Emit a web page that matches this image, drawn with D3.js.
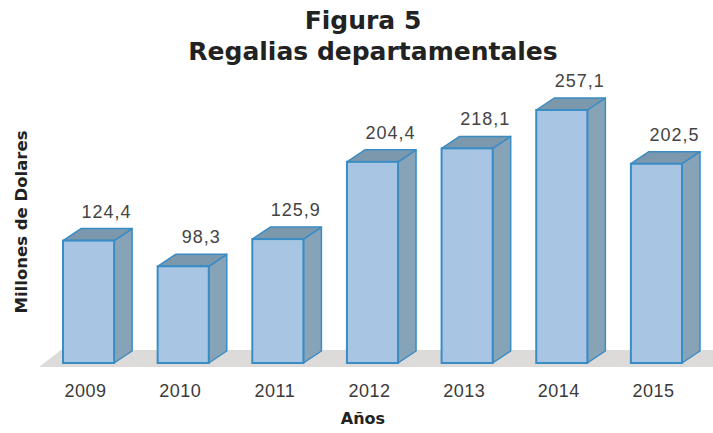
<!DOCTYPE html>
<html>
<head>
<meta charset="utf-8">
<script src="https://cdn.jsdelivr.net/npm/d3@7"></script>
<style>
  body { margin: 0; background: #fff; }
  svg { display: block; }
</style>
</head>
<body>
<svg id="chart"></svg>
<script>
const years = ['2009', '2010', '2011', '2012', '2013', '2014', '2015'];
const regalias = [124.4, 98.3, 125.9, 204.4, 218.1, 257.1, 202.5];

const width = 713, height = 433;
const base = 363;
const depthX = 18, depthY = 12;

const svg = d3.select('#chart')
    .attr('width', width)
    .attr('height', height);

const x = d3.scaleBand()
    .domain(years)
    .range([40, 705])
    .paddingInner(0.46)
    .paddingOuter(0.243);

const y = d3.scaleLinear()
    .domain([0, 257.1])
    .range([base, 110]);

const fmt = d3.formatLocale({ decimal: ',', thousands: '.', grouping: [3], currency: ['', ''] }).format('.1f');

// floor
svg.append('polygon')
    .attr('points', [[39, 367], [61, 350], [713, 350], [713, 367]].join(' '))
    .attr('fill', '#dddada');

const bars = svg.selectAll('g.bar')
    .data(years.map((d, i) => ({ year: d, value: regalias[i] })))
    .enter()
    .append('g')
    .attr('class', 'bar');

// side face
bars.append('polygon')
    .attr('points', d => {
        const x1 = x(d.year) + x.bandwidth(), t = y(d.value);
        return [[x1, t], [x1 + depthX, t - depthY], [x1 + depthX, base - depthY], [x1, base]].join(' ');
    })
    .attr('fill', '#87a3b8')
    .attr('stroke', '#3a8cc4')
    .attr('stroke-width', 1.5)
    .attr('stroke-linejoin', 'round');

// top face
bars.append('polygon')
    .attr('points', d => {
        const x0 = x(d.year), x1 = x0 + x.bandwidth(), t = y(d.value);
        return [[x0, t], [x0 + depthX, t - depthY], [x1 + depthX, t - depthY], [x1, t]].join(' ');
    })
    .attr('fill', '#7c98ad')
    .attr('stroke', '#3a8cc4')
    .attr('stroke-width', 1.5)
    .attr('stroke-linejoin', 'round');

// front face
bars.append('rect')
    .attr('x', d => x(d.year))
    .attr('y', d => y(d.value))
    .attr('width', x.bandwidth())
    .attr('height', d => base - y(d.value))
    .attr('fill', '#a8c6e4')
    .attr('stroke', '#3a8cc4')
    .attr('stroke-width', 2);

bars.append('text')
    .attr('x', d => x(d.year) + x.bandwidth() / 2 + 18)
    .attr('y', d => y(d.value) - 23)
    .attr('text-anchor', 'middle')
    .attr('font-family', 'Liberation Sans, Arial, sans-serif')
    .attr('font-size', '18px')
    .attr('letter-spacing', '1px')
    .attr('fill', '#444')
    .text(d => fmt(d.value));

// x axis labels
const xAxis = svg.append('g')
    .attr('transform', `translate(0,${base})`)
    .call(d3.axisBottom(x).tickSize(0).tickPadding(21));
xAxis.select('.domain').remove();
xAxis.selectAll('text')
    .attr('font-family', 'Liberation Sans, Arial, sans-serif')
    .attr('font-size', '18px')
    .attr('letter-spacing', '0.5px')
    .attr('fill', '#3a3a3a')
    .attr('dx', -3);

svg.append('text')
    .attr('x', 363).attr('y', 424)
    .attr('text-anchor', 'middle')
    .attr('font-family', 'DejaVu Sans, sans-serif')
    .attr('font-weight', 'bold')
    .attr('font-size', '16px')
    .attr('fill', '#222')
    .text('Años');

svg.append('text')
    .attr('transform', 'translate(27,222) rotate(-90)')
    .attr('text-anchor', 'middle')
    .attr('font-family', 'DejaVu Sans, sans-serif')
    .attr('font-weight', 'bold')
    .attr('font-size', '16.5px')
    .attr('fill', '#222')
    .text('Millones de Dolares');

svg.append('text')
    .attr('x', 363).attr('y', 29)
    .attr('text-anchor', 'middle')
    .attr('font-family', 'DejaVu Sans, sans-serif')
    .attr('font-weight', 'bold')
    .attr('font-size', '25px')
    .attr('fill', '#222')
    .text('Figura 5');

svg.append('text')
    .attr('x', 373).attr('y', 60)
    .attr('text-anchor', 'middle')
    .attr('font-family', 'DejaVu Sans, sans-serif')
    .attr('font-weight', 'bold')
    .attr('font-size', '25px')
    .attr('fill', '#222')
    .text('Regalias departamentales');
</script>
</body>
</html>
